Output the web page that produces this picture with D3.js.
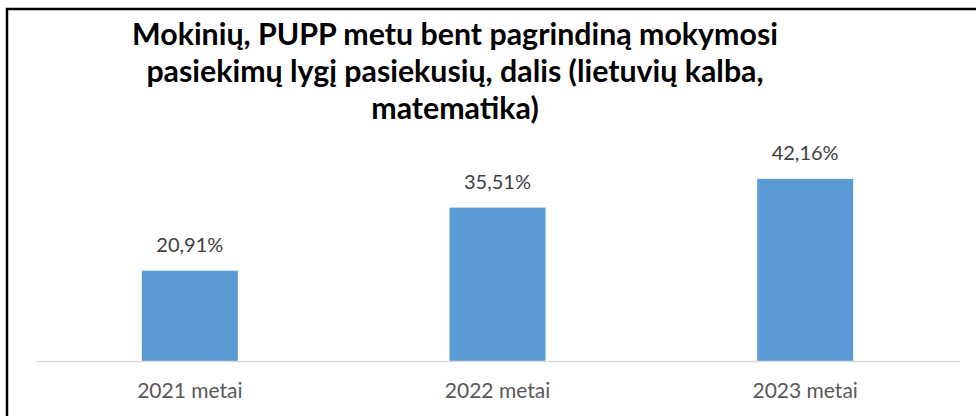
<!DOCTYPE html>
<html>
<head>
<meta charset="utf-8">
<script src="https://cdn.jsdelivr.net/npm/d3@7"></script>
<style>
  html, body { margin: 0; padding: 0; background: #fff; }
  svg { display: block; }
</style>
</head>
<body>
<script>
// data
const categories = ["2021 metai", "2022 metai", "2023 metai"];
const values = [0.2091, 0.3551, 0.4216];
const value_labels = ["20,91%", "35,51%", "42,16%"];
const title_lines = [
    "Mokinių, PUPP metu bent pagrindiną mokymosi",
    "pasiekimų lygį pasiekusių, dalis (lietuvių kalba,",
    "matematika)"
];

const WIDTH = 976;
const HEIGHT = 416;
const FONT = "Lato, 'Open Sans', sans-serif";

const svg = d3.select("body")
    .append("svg")
    .attr("width", WIDTH)
    .attr("height", HEIGHT);

svg.append("rect")
    .attr("width", WIDTH)
    .attr("height", HEIGHT)
    .attr("fill", "#fff");

// chart frame, cut off on right and bottom
svg.append("path")
    .attr("d", `M7,${HEIGHT + 5} V9 H${WIDTH + 5}`)
    .attr("fill", "none")
    .attr("stroke", "#000")
    .attr("stroke-width", 2.5);

const x = d3.scaleBand()
    .domain(categories)
    .range([36, 959])
    .paddingInner(0.688)
    .paddingOuter(0.344);

const y = d3.scaleLinear()
    .domain([0, 0.5])
    .range([361, 145]);

// bars
svg.append("g")
    .selectAll("rect")
    .data(values)
    .join("rect")
    .attr("x", (d, i) => x(categories[i]))
    .attr("y", d => y(d))
    .attr("width", x.bandwidth())
    .attr("height", d => y(0) - y(d))
    .attr("fill", "#5B9BD5");

// category axis
const x_axis = svg.append("g")
    .attr("transform", `translate(0,${y(0)})`)
    .call(d3.axisBottom(x).tickSize(0).tickPadding(22));

x_axis.select(".domain")
    .attr("stroke", "#D9D9D9")
    .attr("stroke-width", 1.5);

x_axis.selectAll("text")
    .attr("font-family", FONT)
    .attr("font-size", 21)
    .attr("fill", "#595959");

// value labels
svg.append("g")
    .selectAll("text")
    .data(values)
    .join("text")
    .attr("x", (d, i) => x(categories[i]) + x.bandwidth() / 2)
    .attr("y", d => y(d) - 19)
    .attr("text-anchor", "middle")
    .attr("font-family", FONT)
    .attr("font-size", 20)
    .attr("fill", "#404040")
    .text((d, i) => value_labels[i]);

// title
const title = svg.append("text")
    .attr("text-anchor", "middle")
    .attr("font-family", FONT)
    .attr("font-weight", "bold")
    .attr("font-size", 26)
    .attr("fill", "#000");

title.selectAll("tspan")
    .data(title_lines)
    .join("tspan")
    .attr("x", 455)
    .attr("y", (d, i) => 45 + i * 37)
    .text(d => d);

// fit the widest title line to the reference width
const widest = d3.max(title.selectAll("tspan").nodes(), n => n.getComputedTextLength());
title.attr("font-size", 26 * 646 / widest);
</script>
</body>
</html>
